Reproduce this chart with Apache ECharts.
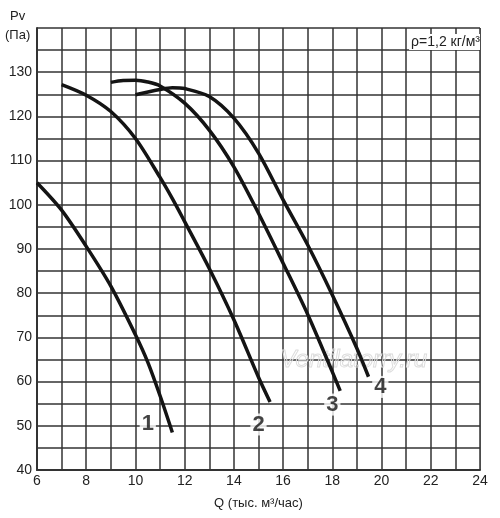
<!DOCTYPE html>
<html>
<head>
<meta charset="utf-8">
<script src="https://cdn.jsdelivr.net/npm/echarts@6/dist/echarts.min.js"></script>
<style>
  html, body { margin: 0; padding: 0; background: #fff; }
  #content { width: 500px; height: 518px; }
</style>
</head>
<body>
<div id="content"></div>
<script>
// fan curves
var q1 = [6, 7, 8, 9, 10, 10.5, 11, 11.5];
var p1 = [105, 98.8, 90.6, 81.6, 70.6, 64.4, 56.8, 48.5];

var q2 = [7, 8, 9, 10, 11, 11.5, 12, 13, 14, 15, 15.47];
var p2 = [127.2, 124.8, 121.1, 115, 106.2, 101.4, 96.2, 85.6, 74, 61, 55.4];

var q3 = [9, 9.5, 10, 10.5, 11, 12, 13, 14, 15, 16, 17, 18, 18.32];
var p3 = [127.7, 128.1, 128.2, 127.8, 126.9, 123, 116.9, 108.6, 98.1, 86.8, 75.2, 62.2, 57.9];

var q4 = [10, 11, 11.5, 12, 13, 14, 15, 16, 17, 18, 19, 19.47];
var p4 = [124.9, 126.1, 126.5, 126.3, 124.5, 119.6, 111.7, 101.1, 90.9, 79.6, 67.5, 61.1];

// curve numbers
var labelQ = [10.5, 15, 18, 19.95];
var labelP = [50.4, 50.3, 54.8, 58.8];
var labelText = ['1', '2', '3', '4'];

function pairs(xs, ys) {
    var out = [];
    for (var i = 0; i < xs.length; i++) out.push([xs[i], ys[i]]);
    return out;
}

var myChart = echarts.init(document.getElementById('content'));
var font = 'Liberation Sans, Arial, sans-serif';

var curve = function (xs, ys) {
    return {
        type: 'line',
        data: pairs(xs, ys),
        smooth: 0.3,
        symbol: 'none',
        z: 3,
        lineStyle: { color: '#141414', width: 3.5 }
    };
};

var labels = [];
for (var i = 0; i < labelQ.length; i++) {
    labels.push({ value: [labelQ[i], labelP[i]], name: labelText[i] });
}

option = {
    animation: false,
    backgroundColor: '#fff',
    grid: { left: 37, right: 20, top: 28, bottom: 48 },
    xAxis: {
        type: 'value',
        min: 6, max: 24, interval: 1,
        name: 'Q (тыс. м³/час)',
        nameLocation: 'middle',
        nameGap: 27,
        nameTextStyle: { fontFamily: font, fontSize: 13, color: '#222' },
        axisLine: { show: true, lineStyle: { color: '#333', width: 2 } },
        axisTick: { show: false },
        axisLabel: {
            fontFamily: font, fontSize: 14, color: '#222', margin: 4,
            formatter: function (v) { return v % 2 === 0 ? v : ''; }
        },
        splitLine: { show: true, lineStyle: { color: '#333', width: 1.5 } }
    },
    yAxis: {
        type: 'value',
        min: 40, max: 140, interval: 5,
        axisLine: { show: true, lineStyle: { color: '#333', width: 2 } },
        axisTick: { show: false },
        axisLabel: {
            fontFamily: font, fontSize: 14, color: '#222', margin: 5,
            formatter: function (v) { return (v % 10 === 0 && v < 140) ? v : ''; }
        },
        splitLine: { show: true, lineStyle: { color: '#333', width: 1.5 } }
    },
    graphic: [
        { type: 'rect', right: 19, top: 28, z: 0, shape: { width: 1, height: 442 },
          style: { fill: '#999' } },
        { type: 'text', left: 10, top: 10, style: { text: 'Pv', font: '13px ' + font, fill: '#222' } },
        { type: 'text', left: 5, top: 29, style: { text: '(Па)', font: '13px ' + font, fill: '#222' } },
        { type: 'text', right: 20, top: 34, z: 10,
          style: { text: 'ρ=1,2 кг/м³', font: '14px ' + font, fill: '#222',
                   backgroundColor: '#fff', padding: [1, 0, 1, 2] } },
        { type: 'text', left: 280, top: 348, z: 1,
          style: { text: 'Ventilatorry.ru', font: 'italic 24px ' + font,
                   fill: 'rgba(0,0,0,0)', stroke: '#dddddd', lineWidth: 1 } }
    ],
    series: [
        curve(q1, p1),
        curve(q2, p2),
        curve(q3, p3),
        curve(q4, p4),
        {
            type: 'scatter',
            data: labels,
            symbolSize: 0,
            z: 5,
            label: {
                show: true,
                position: 'inside',
                formatter: '{b}',
                fontFamily: font,
                fontWeight: 'bold',
                fontSize: 22,
                color: '#141414',
                backgroundColor: '#fff',
                padding: [0, 2]
            }
        }
    ]
};
myChart.setOption(option);
</script>
</body>
</html>
